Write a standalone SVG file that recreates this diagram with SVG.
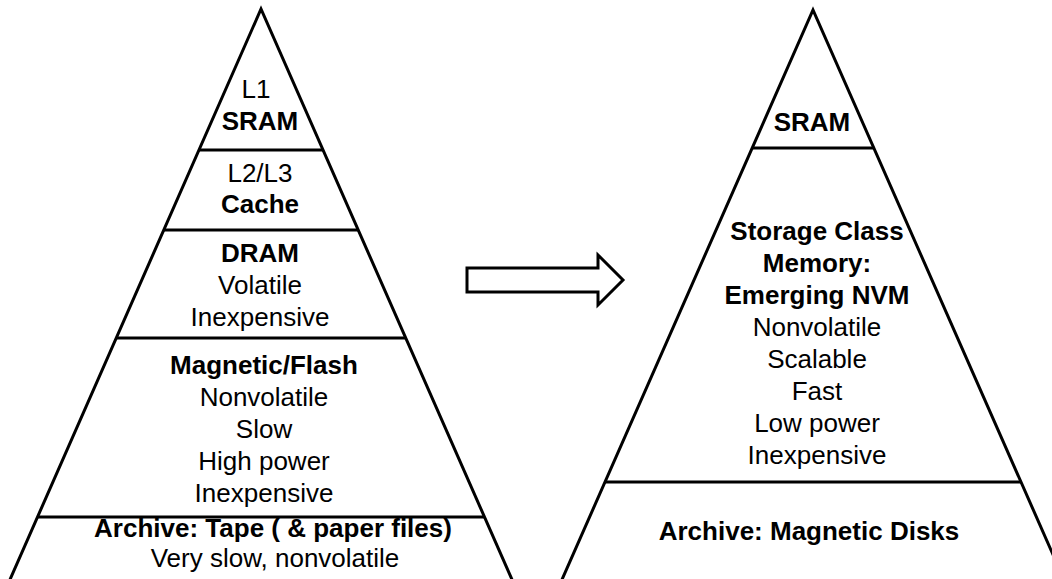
<svg xmlns="http://www.w3.org/2000/svg" width="1052" height="579" viewBox="0 0 1052 579">
<style>
.edge{fill:none;stroke:#000;stroke-width:3;stroke-linecap:butt}
.t{font-family:"Liberation Sans",Arial,sans-serif;font-size:26px;fill:#000;text-anchor:middle}
.b{font-weight:bold}
</style>
<rect width="1052" height="579" fill="#fff"/>
<g id="pyramid-left">
<polyline class="edge" points="1,600 261,9 521,600"/>
<line class="edge" x1="199" y1="150" x2="323" y2="150"/>
<line class="edge" x1="163" y1="230" x2="359" y2="230"/>
<line class="edge" x1="116" y1="338" x2="406" y2="338"/>
<line class="edge" x1="38" y1="517" x2="484" y2="517"/>
</g>
<g id="l1-sram">
<text class="t" x="256" y="98">L1</text>
<text class="t b" x="260" y="130">SRAM</text>
</g>
<g id="l2l3-cache">
<text class="t" x="260" y="182">L2/L3</text>
<text class="t b" x="260" y="213">Cache</text>
</g>
<g id="dram">
<text class="t b" x="260" y="262">DRAM</text>
<text class="t" x="260" y="294">Volatile</text>
<text class="t" x="260" y="326">Inexpensive</text>
</g>
<g id="magnetic-flash">
<text class="t b" x="264" y="374">Magnetic/Flash</text>
<text class="t" x="264" y="406">Nonvolatile</text>
<text class="t" x="264" y="438">Slow</text>
<text class="t" x="264" y="470">High power</text>
<text class="t" x="264" y="502">Inexpensive</text>
</g>
<g id="archive-tape">
<text class="t b" x="273" y="537">Archive: Tape ( &amp; paper files)</text>
<text class="t" x="275" y="567">Very slow, nonvolatile</text>
</g>
<g id="pyramid-right">
<polyline class="edge" points="553,600 813,10 1073,600"/>
<line class="edge" x1="752" y1="148" x2="874" y2="148"/>
<line class="edge" x1="605" y1="482" x2="1021" y2="482"/>
</g>
<g id="sram-right">
<text class="t b" x="812" y="131">SRAM</text>
</g>
<g id="scm">
<text class="t b" x="817" y="240">Storage Class</text>
<text class="t b" x="817" y="272">Memory:</text>
<text class="t b" x="817" y="304">Emerging NVM</text>
<text class="t" x="817" y="336">Nonvolatile</text>
<text class="t" x="817" y="368">Scalable</text>
<text class="t" x="817" y="400">Fast</text>
<text class="t" x="817" y="432">Low power</text>
<text class="t" x="817" y="464">Inexpensive</text>
</g>
<g id="archive-disks">
<text class="t b" x="809" y="540">Archive: Magnetic Disks</text>
</g>
<g id="connectors">
<polygon points="467,268 598,268 598,255 623,280 598,305 598,292 467,292" fill="#fff" stroke="#000" stroke-width="3" stroke-linejoin="miter"/>
</g>
</svg>
